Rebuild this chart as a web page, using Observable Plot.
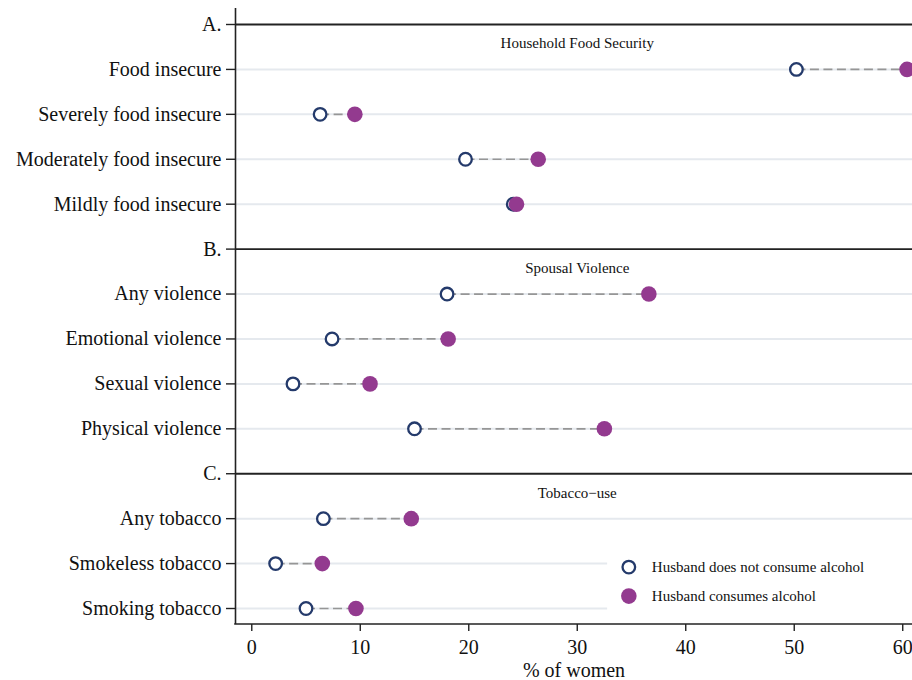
<!DOCTYPE html>
<html>
<head>
<meta charset="utf-8">
<script src="https://cdn.jsdelivr.net/npm/d3@7"></script>
<script src="https://cdn.jsdelivr.net/npm/@observablehq/plot@0.6"></script>
<style>
  html, body { margin: 0; padding: 0; background: #fff; }
  #chart svg { display: block; }
</style>
</head>
<body>
<div id="chart"></div>
<script>
// Row order (top to bottom), including section header rows
const rows = [
  "A.", "Food insecure", "Severely food insecure", "Moderately food insecure", "Mildly food insecure",
  "B.", "Any violence", "Emotional violence", "Sexual violence", "Physical violence",
  "C.", "Any tobacco", "Smokeless tobacco", "Smoking tobacco"
];
const headers = ["A.", "B.", "C."];
const sectionTitles = ["Household Food Security", "Spousal Violence", "Tobacco\u2212use"];
const indicators = [
  "Food insecure", "Severely food insecure", "Moderately food insecure", "Mildly food insecure",
  "Any violence", "Emotional violence", "Sexual violence", "Physical violence",
  "Any tobacco", "Smokeless tobacco", "Smoking tobacco"
];
// % of women
const noAlcohol = [50.2, 6.3, 19.7, 24.1, 18.0, 7.4, 3.8, 15.0, 6.6, 2.2, 5.0];
const alcohol   = [60.4, 9.5, 26.4, 24.4, 36.6, 18.1, 10.9, 32.5, 14.7, 6.5, 9.6];
const xTicks = [0, 10, 20, 30, 40, 50, 60];
const seriesNames = ["Husband does not consume alcohol", "Husband consumes alcohol"];

const pos = name => rows.indexOf(name);
const data = indicators.map((name, i) => ({name, y: pos(name), a: noAlcohol[i], b: alcohol[i]}));
const titles = headers.map((h, i) => ({y: pos(h), t: sectionTitles[i]}));
const headerPos = headers.map(pos);
const gridPos = indicators.map(pos);

const navy = "#243a6b";
const purple = "#933a8f";
const font = "'Liberation Serif', 'Times New Roman', serif";

const chart = Plot.plot({
  width: 912,
  height: 680,
  marginLeft: 235,
  marginRight: 0,
  marginTop: 8,
  marginBottom: 56,
  style: {fontFamily: font, background: "#fff"},
  x: {domain: [-1.5, 60.9]},
  y: {type: "linear", domain: [-0.356, rows.length - 1 + 0.356], reverse: true},
  marks: [
    Plot.ruleY(gridPos, {stroke: "#e5e9ee", strokeWidth: 2}),
    Plot.ruleY(headerPos, {stroke: "#222", strokeWidth: 1.8}),
    Plot.text(titles, {x: 30, y: "y", text: "t", dy: 19, fontSize: 15, fill: "#111", fontFamily: font}),
    Plot.link(data, {x1: "a", x2: "b", y1: "y", y2: "y", stroke: "#969696", strokeWidth: 1.7, strokeDasharray: "9,4.5"}),
    Plot.dot(data, {x: "a", y: "y", r: 6.3, stroke: navy, strokeWidth: 2.3, fill: "#fff"}),
    Plot.dot(data, {x: "b", y: "y", r: 7.8, fill: purple, stroke: "none"}),
    Plot.axisY({ticks: d3.range(rows.length), tickFormat: i => rows[i], tickSize: 9, tickPadding: 5, fontSize: 20, label: null, stroke: "#222", strokeWidth: 1.4, fill: "#111"}),
    Plot.axisX({ticks: xTicks, tickSize: 7, tickPadding: 8, fontSize: 20, tickFormat: d => d, stroke: "#222", strokeWidth: 1.4, fill: "#111",
      label: "% of women", labelAnchor: "center", labelOffset: 52, labelArrow: "none"}),
    Plot.ruleX([-1.5], {stroke: "#222", strokeWidth: 1.6})
  ]
});
document.getElementById("chart").appendChild(chart);

// bottom axis line and legend using the plot's own scales
const svg = d3.select(chart);
const xs = chart.scale("x");
const ys = chart.scale("y");
const [xr0, xr1] = xs.range;
const yBottom = 680 - 56;
svg.append("line")
  .attr("x1", xr0 - 0.8).attr("x2", xr1)
  .attr("y1", yBottom).attr("y2", yBottom)
  .attr("stroke", "#222").attr("stroke-width", 1.6);

// Legend (inside plot, lower right)
const lg = svg.append("g").attr("text-anchor", "start");
const ly = ys.apply(pos("Smokeless tobacco"));
lg.append("rect").attr("x", xs.apply(32.8)).attr("y", ly - 18).attr("width", xr1 - xs.apply(32.8)).attr("height", 66).attr("fill", "#fff");
const lx = xs.apply(34.8);
lg.append("circle").attr("cx", lx).attr("cy", ly + 4).attr("r", 6.3).attr("fill", "#fff").attr("stroke", navy).attr("stroke-width", 2.3);
lg.append("circle").attr("cx", lx).attr("cy", ly + 33).attr("r", 7.8).attr("fill", purple);
lg.selectAll("text.lt").data(seriesNames).join("text")
  .attr("x", lx + 23).attr("y", (d, i) => ly + 4 + i * 29)
  .attr("dy", "0.35em")
  .attr("text-anchor", "start")
  .attr("font-family", font).attr("font-size", 15).attr("fill", "#111")
  .text(d => d);
</script>
</body>
</html>
